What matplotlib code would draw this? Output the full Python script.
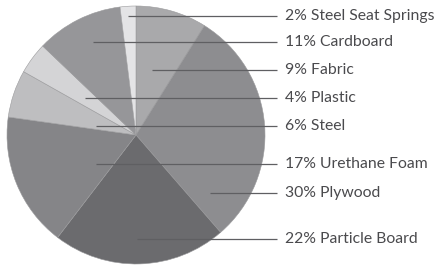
import matplotlib
matplotlib.use("Agg")
import matplotlib.pyplot as plt

# slices, clockwise from 12 o'clock
materials = ["Fabric", "Plywood", "Particle Board", "Urethane Foam",
             "Steel", "Plastic", "Cardboard", "Steel Seat Springs"]
shares = [9, 30, 22, 17, 6, 4, 11, 2]
colors = ["#a9a9ab", "#8d8d90", "#6b6b6e", "#858588",
          "#bebec0", "#d4d4d6", "#969699", "#e4e4e6"]

# label rows (top to bottom) and where each leader line starts, in pixels
label_order = ["Steel Seat Springs", "Cardboard", "Fabric", "Plastic",
               "Steel", "Urethane Foam", "Plywood", "Particle Board"]
label_y = [16, 42, 70, 98, 126, 164, 193, 239]
anchor_x = [128, 93, 152, 85, 96, 96, 210, 137]

W, H = 442, 267
fig = plt.figure(figsize=(W / 100, H / 100), dpi=100)
ax = fig.add_axes([0, 0, 1, 1])

ax.pie(shares, colors=colors, startangle=90, counterclock=False,
       center=(136, H - 135), radius=129, frame=True,
       wedgeprops=dict(linewidth=0.4, edgecolor="#9a9a9c"))
ax.set_xlim(0, W)
ax.set_ylim(0, H)
ax.set_aspect("equal")
ax.axis("off")

for name, y, x0 in zip(label_order, label_y, anchor_x):
    pct = shares[materials.index(name)]
    ax.plot([x0, 277], [H - y, H - y], color="#5f5f62", lw=0.9,
            solid_capstyle="butt")
    ax.text(285, H - y, f"{pct}% {name}", fontsize=11.3, family="Lato",
            color="#4a4a4d", va="center", ha="left")

fig.savefig("out.png", dpi=100)
